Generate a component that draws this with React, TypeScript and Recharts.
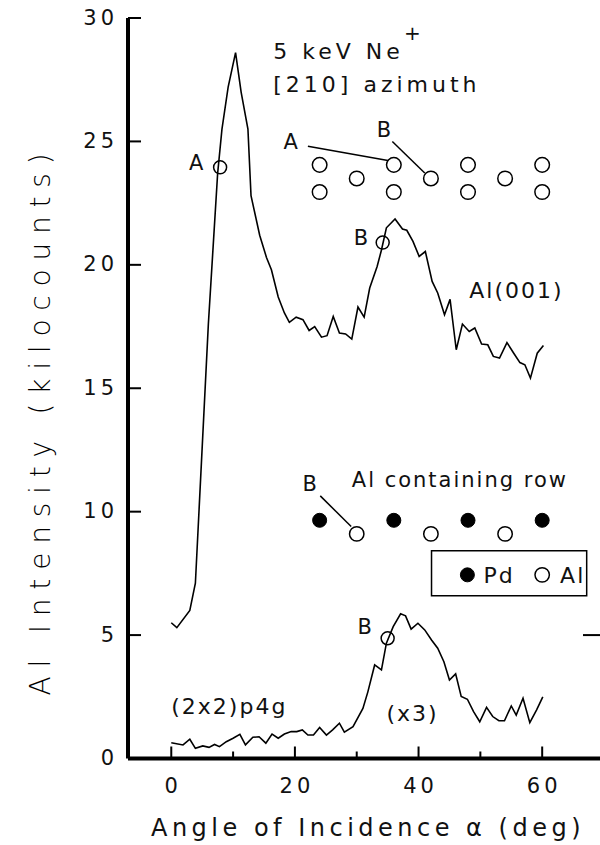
import React from 'react';
import {
  ComposedChart,
  Line,
  Scatter,
  XAxis,
  YAxis,
  ReferenceLine,
  ReferenceArea,
} from 'recharts';

const FONT = '"DejaVu Sans", sans-serif';
const INK = '#111';

// Al(001) scan
const al001Angle = [0, 0.9, 3, 3.9, 6, 7.5, 8.2, 9.2, 10.4, 11.3, 12.4, 12.9, 14.3, 15.4, 16.2, 17.3, 18.3, 19.1, 20.2, 21.3, 22.3, 23.2, 24.3, 25.2, 26.2, 27.2, 28.2, 29.2, 30.2, 31.2, 32.1, 33.3, 34.0, 34.8, 36.2, 37.4, 38.1, 39.1, 40.1, 41.1, 42.2, 43.1, 44.2, 45.1, 46.1, 47.1, 48.2, 49.1, 50.2, 51.2, 52.1, 53.1, 54.3, 55.4, 56.4, 57.2, 58.1, 59.2, 60.2];
const al001Counts = [5.5, 5.3, 6.0, 7.1, 17.6, 23.7, 25.5, 27.2, 28.6, 27.0, 25.5, 22.8, 21.2, 20.3, 19.8, 18.7, 18.05, 17.67, 17.88, 17.78, 17.34, 17.5, 17.07, 17.13, 17.91, 17.24, 17.2, 16.99, 18.29, 17.88, 19.06, 19.93, 20.6, 21.5, 21.86, 21.45, 21.4, 20.95, 20.34, 20.54, 19.33, 18.86, 17.98, 18.6, 16.56, 17.6, 17.3, 17.44, 16.79, 16.76, 16.29, 16.22, 16.85, 16.42, 16.04, 15.95, 15.41, 16.42, 16.73];

// (2x2)p4g scan (x3)
const p4gAngle = [0, 1.9, 3.0, 3.9, 5.1, 6.1, 7.0, 7.8, 8.9, 10.0, 11.1, 12.0, 13.2, 14.2, 15.3, 16.3, 17.3, 18.3, 19.4, 20.3, 21.2, 22.1, 23.0, 24.0, 25.1, 26.1, 27.2, 28.0, 29.4, 31.0, 31.8, 32.9, 34.0, 34.8, 35.9, 37.1, 37.9, 38.8, 39.9, 41.0, 42.1, 43.1, 44.1, 45.0, 46.0, 46.9, 47.9, 48.9, 49.9, 51.0, 52.0, 53.0, 53.9, 55.0, 55.8, 56.9, 58.0, 59.1, 60.1];
const p4gCounts = [0.64, 0.55, 0.78, 0.41, 0.51, 0.45, 0.57, 0.48, 0.68, 0.82, 0.98, 0.55, 0.86, 0.88, 0.62, 0.99, 0.82, 0.99, 1.09, 1.09, 1.16, 0.95, 0.95, 1.26, 0.95, 1.16, 1.43, 1.07, 1.29, 2.03, 2.7, 3.79, 3.59, 4.67, 5.34, 5.86, 5.78, 5.24, 5.48, 5.21, 4.8, 4.47, 3.92, 3.18, 3.43, 2.51, 2.4, 1.9, 1.49, 2.07, 1.7, 1.53, 1.53, 2.13, 1.76, 2.44, 1.45, 1.97, 2.5];

const xTicks = [0, 10, 20, 30, 40, 50, 60];
const yTicks = [0, 5, 10, 15, 20, 25, 30];

// atom rows drawn inside the plot
const surfaceRowAngles = [24, 36, 48, 60];
const secondRowAngles = [30, 42, 54];
const pdRowAngles = [24, 36, 48, 60];
const alRowAngles = [30, 42, 54];

// marked points on the curves
const markers = [
  { x: 7.9, y: 23.95 },
  { x: 34.2, y: 20.9 },
  { x: 35.0, y: 4.87 },
];

const notes = [
  { x: 16.5, y: 28.66, text: '5 keV Ne', anchor: 'start', size: 22, ls: 4 },
  { x: 39.0, y: 29.4, text: '+', anchor: 'middle', size: 20, ls: 0 },
  { x: 16.5, y: 27.34, text: '[210] azimuth', anchor: 'start', size: 22, ls: 4 },
  { x: 19.3, y: 25.0, text: 'A', anchor: 'middle', size: 21, ls: 0 },
  { x: 34.4, y: 25.48, text: 'B', anchor: 'middle', size: 21, ls: 0 },
  { x: 4.05, y: 24.13, text: 'A', anchor: 'middle', size: 21, ls: 0 },
  { x: 30.7, y: 21.09, text: 'B', anchor: 'middle', size: 21, ls: 0 },
  { x: 48.2, y: 18.99, text: 'Al(001)', anchor: 'start', size: 22, ls: 2 },
  { x: 29.2, y: 11.31, text: 'Al containing row', anchor: 'start', size: 21, ls: 2 },
  { x: 22.4, y: 11.16, text: 'B', anchor: 'middle', size: 21, ls: 0 },
  { x: 50.5, y: 7.44, text: 'Pd', anchor: 'start', size: 22, ls: 2 },
  { x: 62.9, y: 7.44, text: 'Al', anchor: 'start', size: 22, ls: 2 },
  { x: 31.3, y: 5.34, text: 'B', anchor: 'middle', size: 21, ls: 0 },
  { x: 0, y: 2.14, text: '(2x2)p4g', anchor: 'start', size: 22, ls: 2 },
  { x: 34.8, y: 1.83, text: '(x3)', anchor: 'start', size: 22, ls: 2 },
];

const leaders = [
  [{ x: 22.1, y: 24.8 }, { x: 35.05, y: 24.23 }],
  [{ x: 35.76, y: 25.0 }, { x: 41.0, y: 23.72 }],
  [{ x: 24.1, y: 10.64 }, { x: 29.1, y: 9.4 }],
  // inward tick on the right frame (the frame itself is off the page)
  [{ x: 66.6, y: 5 }, { x: 70, y: 5 }],
];

const al001Data = al001Angle.map((x, i) => ({ x, y: al001Counts[i] }));
const p4gData = p4gAngle.map((x, i) => ({ x, y: p4gCounts[i] }));
const topRow = surfaceRowAngles.map((x) => ({ x, y: 24.05 }));
const bottomRow = surfaceRowAngles.map((x) => ({ x, y: 22.95 }));
const midRow = secondRowAngles.map((x) => ({ x, y: 23.5 }));
const pdRow = pdRowAngles.map((x) => ({ x, y: 9.65 }));
const alRow = alRowAngles.map((x) => ({ x, y: 9.1 }));
const legendPd = [{ x: 47.9, y: 7.44 }];
const legendAl = [{ x: 60.0, y: 7.44 }];

const openCircle = (r: number) => (p: any) => (
  <circle cx={p.cx} cy={p.cy} r={r} fill="none" stroke="#000" strokeWidth={1.5} />
);
const filledCircle = (r: number) => (p: any) => (
  <circle cx={p.cx} cy={p.cy} r={r} fill="#000" stroke="#000" strokeWidth={1} />
);

const noteShape = (p: any) => {
  const n = p.payload;
  return (
    <text
      x={p.cx}
      y={p.cy}
      dy="0.36em"
      textAnchor={n.anchor}
      fontSize={n.size}
      letterSpacing={n.ls}
      fontFamily={FONT}
      fill={INK}
    >
      {n.text}
    </text>
  );
};

const XTick = (p: any) => {
  const v = p.payload.value;
  const major = v % 20 === 0;
  return (
    <g>
      <line x1={p.x} x2={p.x} y1={p.y} y2={p.y - (major ? 12 : 7)} stroke="#000" strokeWidth={2} />
      {major && (
        <text x={p.x + 2} y={p.y + 34} textAnchor="middle" fontSize={21} letterSpacing={4} fontFamily={FONT} fill={INK}>
          {v}
        </text>
      )}
    </g>
  );
};

const YTick = (p: any) => (
  <g>
    <line x1={p.x} x2={p.x + 13} y1={p.y} y2={p.y} stroke="#000" strokeWidth={2} />
    <text x={p.x - 10} y={p.y + 6.5} textAnchor="end" fontSize={21} letterSpacing={4} fontFamily={FONT} fill={INK}>
      {p.payload.value}
    </text>
  </g>
);

const XTitle = (p: any) => {
  const vb = p.viewBox || { x: 128, width: 476 };
  return (
    <text x={vb.x + vb.width / 2 + 2} y={836} textAnchor="middle" fontSize={24} letterSpacing={4.5} fontFamily={FONT} fill={INK}>
      Angle of Incidence α (deg)
    </text>
  );
};

const YTitle = () => (
  <text
    x={50}
    y={420}
    transform="rotate(-90, 50, 420)"
    textAnchor="middle"
    fontSize={28}
    fontWeight={300}
    letterSpacing={8.8}
    fontFamily={FONT}
    fill="#000"
  >
    Al Intensity (kilocounts)
  </text>
);

export default function App() {
  return (
    <div style={{ position: 'absolute', left: 0, top: 0, width: 600, height: 845, overflow: 'hidden', background: '#fff' }}>
      <ComposedChart width={620} height={845} margin={{ top: 18, right: 16, bottom: 0, left: 0 }}>
        <XAxis
          dataKey="x"
          type="number"
          domain={[-7, 70]}
          allowDataOverflow
          ticks={xTicks}
          height={86.5}
          tickSize={0}
          tickMargin={0}
          tickLine={false}
          tick={XTick}
          axisLine={{ stroke: '#000', strokeWidth: 4 }}
          label={XTitle}
        />
        <XAxis
          xAxisId="top"
          orientation="top"
          type="number"
          domain={[-7, 70]}
          height={0}
          tick={false}
          tickLine={false}
          axisLine={{ stroke: '#000', strokeWidth: 4 }}
        />
        <YAxis
          dataKey="y"
          type="number"
          domain={[0, 30]}
          allowDataOverflow
          ticks={yTicks}
          width={128}
          tickSize={0}
          tickMargin={0}
          tickLine={false}
          tick={YTick}
          axisLine={{ stroke: '#000', strokeWidth: 4 }}
          label={YTitle}
        />

        <ReferenceArea x1={42.1} x2={67.2} y1={6.59} y2={8.42} fill="#fff" fillOpacity={0} stroke="#000" strokeWidth={1.5} />
        {leaders.map((seg, i) => (
          <ReferenceLine key={i} segment={seg} stroke="#000" strokeWidth={i === 3 ? 2 : 1.5} />
        ))}

        <Line data={al001Data} dataKey="y" type="linear" stroke="#000" strokeWidth={1.6} dot={false} isAnimationActive={false} />
        <Line data={p4gData} dataKey="y" type="linear" stroke="#000" strokeWidth={1.6} dot={false} isAnimationActive={false} />

        <Scatter data={topRow} shape={openCircle(7.3)} isAnimationActive={false} />
        <Scatter data={midRow} shape={openCircle(7.3)} isAnimationActive={false} />
        <Scatter data={bottomRow} shape={openCircle(7.3)} isAnimationActive={false} />
        <Scatter data={pdRow} shape={filledCircle(7)} isAnimationActive={false} />
        <Scatter data={alRow} shape={openCircle(7.2)} isAnimationActive={false} />
        <Scatter data={markers} shape={openCircle(6.5)} isAnimationActive={false} />
        <Scatter data={legendPd} shape={filledCircle(7)} isAnimationActive={false} />
        <Scatter data={legendAl} shape={openCircle(7.2)} isAnimationActive={false} />
        <Scatter data={notes} shape={noteShape} isAnimationActive={false} />
      </ComposedChart>
    </div>
  );
}
